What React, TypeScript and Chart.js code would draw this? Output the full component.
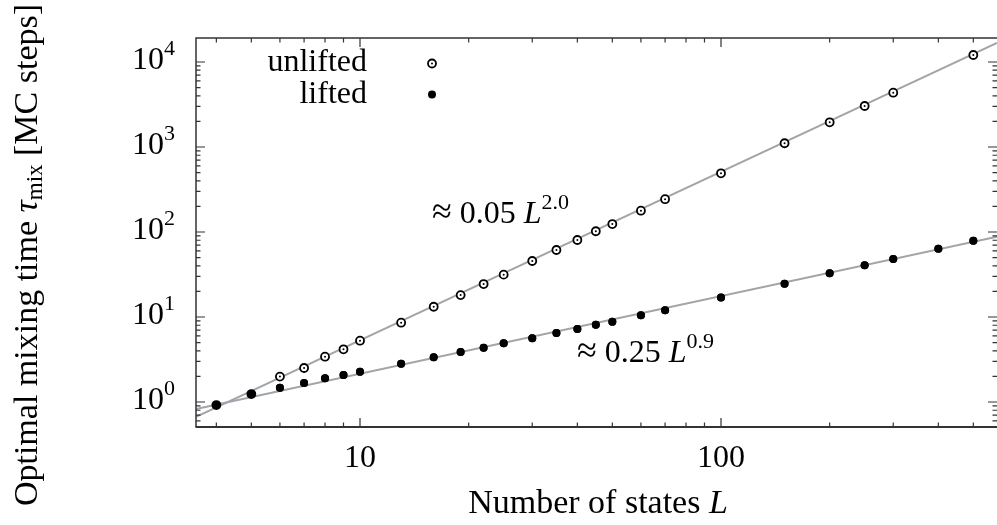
import { useEffect, useRef } from "react";
import { Chart, registerables } from "chart.js";

Chart.register(...registerables);

// ---- data ----
const L_UNLIFTED = [4, 5, 6, 7, 8, 9, 10, 13, 16, 19, 22, 25, 30, 35, 40, 45, 50, 60, 70, 100, 150, 200, 250, 300, 500];
const TAU_UNLIFTED = [0.92, 1.24, 1.99, 2.51, 3.41, 4.17, 5.26, 8.57, 13.2, 18.1, 24.4, 31.5, 45.6, 61.4, 80.5, 102, 124, 178, 243, 490, 1106, 1950, 3035, 4350, 12080];

const L_LIFTED = [4, 5, 6, 7, 8, 9, 10, 13, 16, 19, 22, 25, 30, 35, 40, 45, 50, 60, 70, 100, 150, 200, 250, 300, 400, 500];
const TAU_LIFTED = [0.92, 1.24, 1.47, 1.67, 1.9, 2.08, 2.27, 2.82, 3.36, 3.88, 4.35, 4.9, 5.61, 6.48, 7.22, 8.12, 8.81, 10.5, 12.0, 16.9, 24.6, 32.7, 40.6, 48.1, 63.6, 79.0];

// fitted lines (end points read at the plot edges)
const FIT_L = [3.513, 581.5];
const FIT_UNLIFTED_TAU = [0.667, 16800];
const FIT_LIFTED_TAU = [0.828, 88];

const X_MIN = 3.513;
const X_MAX = 581.5;
const Y_MIN = 0.508;
const Y_MAX = 19150;

const X_MAJOR_TICKS = [10, 100];
const X_TICK_LABELS = ["10", "100"];
const Y_MAJOR_TICKS = [1, 10, 100, 1000, 10000];
const Y_TICK_EXPONENTS = ["0", "1", "2", "3", "4"];

const SERIF = "'Liberation Serif', 'DejaVu Serif', serif";
const FS = 32;
const FS_TITLE = 34;
const LINE_GRAY = "#a1a5a9";
const AXIS_COLOR = "#333333";

type Run = { text: string; size: number; italic?: boolean; dy?: number };

function fontOf(r: Run) {
  return `${r.italic ? "italic " : ""}${r.size}px ${SERIF}`;
}

function runsWidth(ctx: CanvasRenderingContext2D, runs: Run[]) {
  let w = 0;
  for (const r of runs) {
    ctx.font = fontOf(r);
    w += ctx.measureText(r.text).width;
  }
  return w;
}

function drawRuns(
  ctx: CanvasRenderingContext2D,
  runs: Run[],
  x: number,
  y: number,
  align: "left" | "center" | "right"
) {
  const w = runsWidth(ctx, runs);
  let cx = align === "left" ? x : align === "center" ? x - w / 2 : x - w;
  ctx.textAlign = "left";
  ctx.textBaseline = "alphabetic";
  for (const r of runs) {
    ctx.font = fontOf(r);
    ctx.fillText(r.text, cx, y + (r.dy || 0));
    cx += ctx.measureText(r.text).width;
  }
}

function minorValues(min: number, max: number, majors: number[]) {
  const out: number[] = [];
  for (let e = -2; e <= 5; e++) {
    const d = Math.pow(10, e);
    for (let m = 2; m <= 9; m++) {
      const v = m * d;
      if (v > min && v < max && !majors.includes(v)) out.push(v);
    }
  }
  return out;
}

function drawOpenMarker(ctx: CanvasRenderingContext2D, x: number, y: number) {
  ctx.beginPath();
  ctx.arc(x, y, 4, 0, Math.PI * 2);
  ctx.fillStyle = "#fff";
  ctx.fill();
  ctx.lineWidth = 1.8;
  ctx.strokeStyle = "#000";
  ctx.stroke();
  ctx.beginPath();
  ctx.arc(x, y, 1, 0, Math.PI * 2);
  ctx.fillStyle = "#000";
  ctx.fill();
}

function drawFilledMarker(ctx: CanvasRenderingContext2D, x: number, y: number) {
  ctx.beginPath();
  ctx.arc(x, y, 4, 0, Math.PI * 2);
  ctx.fillStyle = "#000";
  ctx.fill();
}

const decorPlugin = {
  id: "decor",
  afterDatasetsDraw(chart: any) {
    const ctx: CanvasRenderingContext2D = chart.ctx;
    const meta = chart.getDatasetMeta(1);
    ctx.save();
    ctx.fillStyle = "#000";
    for (const el of meta.data) {
      ctx.beginPath();
      ctx.arc(el.x, el.y, 1, 0, Math.PI * 2);
      ctx.fill();
    }
    const metaL = chart.getDatasetMeta(0);
    for (const el of metaL.data) drawFilledMarker(ctx, el.x, el.y);
    ctx.restore();
  },
  afterDraw(chart: any) {
    const ctx: CanvasRenderingContext2D = chart.ctx;
    const a = chart.chartArea;
    const xs = chart.scales.x;
    const ys = chart.scales.y;
    ctx.save();

    // frame (right edge lies at the picture border)
    ctx.strokeStyle = AXIS_COLOR;
    ctx.lineWidth = 1.5;
    ctx.beginPath();
    ctx.moveTo(a.right + 2, a.top);
    ctx.lineTo(a.left, a.top);
    ctx.lineTo(a.left, a.bottom);
    ctx.stroke();
    ctx.lineWidth = 2;
    ctx.beginPath();
    ctx.moveTo(a.left - 0.5, a.bottom);
    ctx.lineTo(a.right + 2, a.bottom);
    ctx.stroke();

    // ticks (inward, all four sides)
    const MAJ = 9;
    const MIN = 4.5;
    ctx.lineWidth = 1.2;
    ctx.beginPath();
    const xMinor = minorValues(X_MIN, X_MAX, X_MAJOR_TICKS);
    for (const v of X_MAJOR_TICKS) {
      const px = xs.getPixelForValue(v);
      ctx.moveTo(px, a.bottom); ctx.lineTo(px, a.bottom - MAJ);
      ctx.moveTo(px, a.top); ctx.lineTo(px, a.top + MAJ);
    }
    for (const v of xMinor) {
      const px = xs.getPixelForValue(v);
      ctx.moveTo(px, a.bottom); ctx.lineTo(px, a.bottom - MIN);
      ctx.moveTo(px, a.top); ctx.lineTo(px, a.top + MIN);
    }
    const yMinor = minorValues(Y_MIN, Y_MAX, Y_MAJOR_TICKS);
    for (const v of Y_MAJOR_TICKS) {
      const py = ys.getPixelForValue(v);
      ctx.moveTo(a.left, py); ctx.lineTo(a.left + MAJ, py);
      ctx.moveTo(a.right, py); ctx.lineTo(a.right - MAJ, py);
    }
    for (const v of yMinor) {
      const py = ys.getPixelForValue(v);
      ctx.moveTo(a.left, py); ctx.lineTo(a.left + MIN, py);
      ctx.moveTo(a.right, py); ctx.lineTo(a.right - MIN, py);
    }
    ctx.stroke();

    ctx.fillStyle = "#000";
    // x tick labels
    X_MAJOR_TICKS.forEach((v, i) => {
      const px = xs.getPixelForValue(v);
      drawRuns(ctx, [{ text: X_TICK_LABELS[i], size: FS }], px, a.bottom + 40, "center");
    });
    // y tick labels 10^n
    Y_MAJOR_TICKS.forEach((v, i) => {
      const py = ys.getPixelForValue(v);
      drawRuns(
        ctx,
        [
          { text: "10", size: FS },
          { text: Y_TICK_EXPONENTS[i], size: 22, dy: -14 },
        ],
        a.left - 21,
        py + 7,
        "right"
      );
    });

    // x title
    drawRuns(
      ctx,
      [
        { text: "Number of states ", size: FS_TITLE },
        { text: "L", size: FS_TITLE, italic: true },
      ],
      598,
      513,
      "center"
    );

    // y title (rotated)
    ctx.save();
    ctx.translate(37, 255);
    ctx.rotate(-Math.PI / 2);
    drawRuns(
      ctx,
      [
        { text: "Optimal mixing time ", size: FS_TITLE },
        { text: "τ", size: FS_TITLE, italic: true },
        { text: "mix", size: 23, dy: 5 },
        { text: " [MC steps]", size: FS_TITLE },
      ],
      0,
      0,
      "center"
    );
    ctx.restore();

    // annotations
    drawRuns(
      ctx,
      [
        { text: "≈", size: 36 },
        { text: " 0.05 ", size: FS },
        { text: "L", size: FS, italic: true },
        { text: "2.0", size: 22, dy: -14 },
      ],
      432,
      223,
      "left"
    );
    drawRuns(
      ctx,
      [
        { text: "≈", size: 36 },
        { text: " 0.25 ", size: FS },
        { text: "L", size: FS, italic: true },
        { text: "0.9", size: 22, dy: -14 },
      ],
      577,
      362,
      "left"
    );

    // legend
    drawRuns(ctx, [{ text: "unlifted", size: FS }], 367, 71, "right");
    drawRuns(ctx, [{ text: "lifted", size: FS }], 367, 103, "right");
    drawOpenMarker(ctx, 432, 63.5);
    drawFilledMarker(ctx, 432, 94.5);

    ctx.restore();
  },
};

export default function App() {
  const ref = useRef<HTMLCanvasElement | null>(null);
  useEffect(() => {
    if (!ref.current) return;
    const chart = new Chart(ref.current, {
      type: "scatter",
      data: {
        datasets: [
          {
            label: "lifted",
            data: L_LIFTED.map((x, i) => ({ x, y: TAU_LIFTED[i] })),
            pointRadius: 4,
            pointBorderWidth: 0,
            pointBackgroundColor: "#000",
            pointBorderColor: "#000",
            showLine: false,
            order: 1,
          },
          {
            label: "unlifted",
            data: L_UNLIFTED.map((x, i) => ({ x, y: TAU_UNLIFTED[i] })),
            pointRadius: 4,
            pointBorderWidth: 1.8,
            pointBackgroundColor: "#fff",
            pointBorderColor: "#000",
            showLine: false,
            order: 2,
          },
          {
            label: "fit unlifted",
            data: FIT_L.map((x, i) => ({ x, y: FIT_UNLIFTED_TAU[i] })),
            showLine: true,
            pointRadius: 0,
            borderColor: LINE_GRAY,
            borderWidth: 2,
            order: 3,
          },
          {
            label: "fit lifted",
            data: FIT_L.map((x, i) => ({ x, y: FIT_LIFTED_TAU[i] })),
            showLine: true,
            pointRadius: 0,
            borderColor: LINE_GRAY,
            borderWidth: 2,
            order: 4,
          },
        ],
      },
      options: {
        animation: false,
        responsive: false,
        maintainAspectRatio: false,
        layout: { autoPadding: false, padding: { left: 196, top: 38, right: 0, bottom: 98 } },
        scales: {
          x: { type: "logarithmic", min: X_MIN, max: X_MAX, display: false },
          y: { type: "logarithmic", min: Y_MIN, max: Y_MAX, display: false },
        },
        plugins: {
          legend: { display: false },
          tooltip: { enabled: false },
        },
      },
      plugins: [decorPlugin],
    });
    return () => chart.destroy();
  }, []);

  return (
    <div style={{ position: "fixed", left: 0, top: 0, width: 997, height: 525, overflow: "hidden", background: "#fff" }}>
      <canvas ref={ref} width={997} height={525} style={{ display: "block", width: 997, height: 525 }} />
    </div>
  );
}
